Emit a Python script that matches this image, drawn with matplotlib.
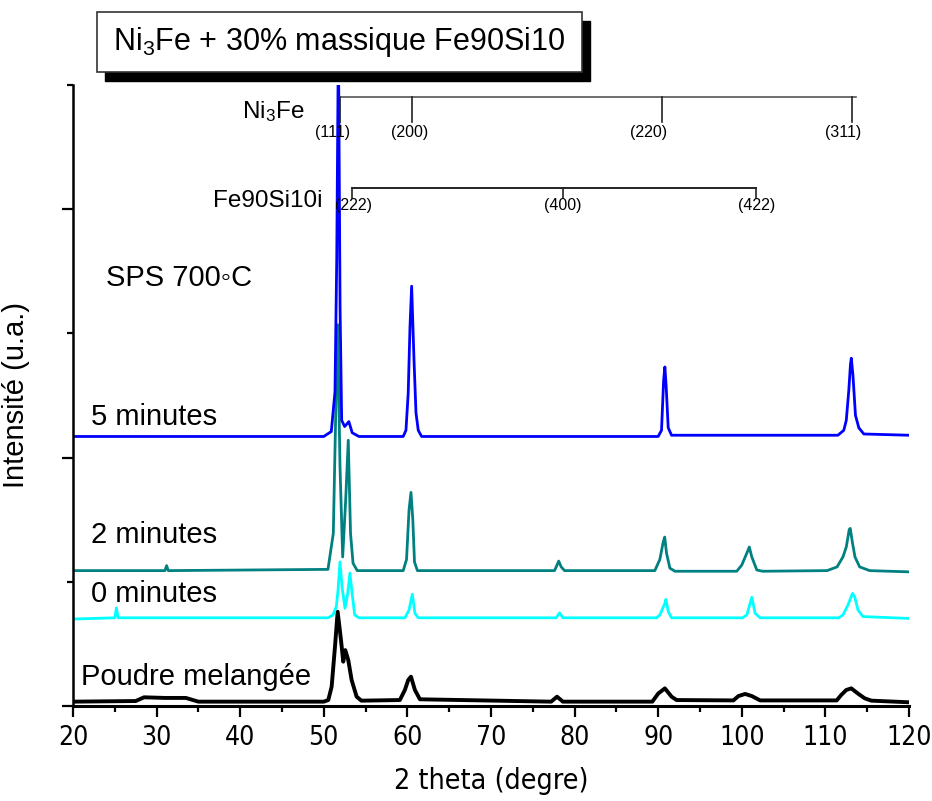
import numpy as np
import matplotlib
matplotlib.use('Agg')
import matplotlib.pyplot as plt
from matplotlib.patches import Rectangle
from matplotlib.ticker import MultipleLocator
from matplotlib import font_manager

plt.rcParams.update({'font.family': ['Liberation Sans', 'DejaVu Sans'],
                     'mathtext.fontset': 'custom',
                     'mathtext.rm': 'Liberation Sans',
                     'mathtext.it': 'Liberation Sans'})

# condensed face for the axis numbers, if one is installed
cond = font_manager.FontProperties(family='DejaVu Sans', stretch='condensed')
IS_COND = 'Condensed' in font_manager.findfont(cond)

# ── data (2theta, stacked intensity in arbitrary units) ──
x_5min = [20, 30, 40, 50, 50.9, 51.34, 51.55, 51.75, 51.95, 52.14, 52.5, 53.0, 53.4, 54.2,
          59.5, 59.83, 60.1, 60.31, 60.51, 60.79, 61.03, 61.3, 61.7,
          90.0, 90.4, 90.65, 90.8, 90.95, 91.2, 91.6,
          111.5, 112.2, 112.5, 112.8, 113.0, 113.1, 113.3, 113.6, 114.0, 114.6, 120]
y_5min = [2.17, 2.17, 2.17, 2.17, 2.21, 2.53, 3.6, 5.4, 3.2, 2.30, 2.25, 2.29, 2.20, 2.17,
          2.17, 2.22, 2.52, 3.05, 3.38, 2.79, 2.36, 2.22, 2.17,
          2.17, 2.22, 2.62, 2.73, 2.58, 2.24, 2.18,
          2.18, 2.22, 2.30, 2.54, 2.75, 2.80, 2.66, 2.34, 2.24, 2.19, 2.18]

x_2min = [20, 31.0, 31.2, 31.4, 50.5, 51.14, 51.46, 51.66, 51.94, 52.26, 52.62, 52.93, 53.2, 53.5, 54.0,
          59.5, 59.9, 60.2, 60.43, 60.65, 60.85, 61.2,
          77.6, 77.9, 78.1, 78.4, 78.8,
          89.6, 90.2, 90.6, 90.78, 91.0, 91.4, 92.0,
          99.4, 100.0, 100.6, 100.9, 101.2, 101.8, 102.5,
          110.2, 111.4, 112.1, 112.5, 112.85, 112.97, 113.25, 113.54, 114.1, 115.3, 120]
y_2min = [1.09, 1.09, 1.13, 1.09, 1.10, 1.39, 2.46, 3.07, 1.93, 1.20, 1.66, 2.14, 1.39, 1.15, 1.09,
          1.09, 1.18, 1.58, 1.72, 1.50, 1.16, 1.09,
          1.09, 1.135, 1.167, 1.12, 1.09,
          1.09, 1.18, 1.32, 1.36, 1.23, 1.11, 1.085,
          1.085, 1.135, 1.23, 1.28, 1.20, 1.095, 1.085,
          1.09, 1.12, 1.20, 1.28, 1.42, 1.43, 1.31, 1.20, 1.12, 1.09, 1.08]

x_0min = [20, 25.0, 25.2, 25.4, 50.5, 51.1, 51.5, 51.7, 51.94, 52.2, 52.54, 52.85, 53.13, 53.4, 53.7, 54.2,
          59.7, 60.2, 60.59, 60.9, 61.3, 77.8, 78.2, 78.6,
          89.8, 90.2, 90.8, 90.93, 91.2, 91.6,
          100.1, 100.6, 101.2, 101.6, 102.2,
          111.6, 112.1, 112.7, 113.25, 113.5, 113.9, 114.5, 120]
y_0min = [0.70, 0.71, 0.79, 0.71, 0.71, 0.733, 0.80, 0.93, 1.16, 0.95, 0.787, 0.90, 1.07, 0.90, 0.733, 0.71,
          0.71, 0.773, 0.90, 0.746, 0.71, 0.71, 0.75, 0.71,
          0.71, 0.733, 0.827, 0.859, 0.76, 0.71,
          0.71, 0.733, 0.875, 0.746, 0.71,
          0.71, 0.733, 0.813, 0.907, 0.88, 0.773, 0.72, 0.705]

x_poudre = [20, 27.5, 28.5, 31, 33.5, 35, 50.0, 50.54, 50.94, 51.34, 51.66, 52.06, 52.33, 52.57, 52.93,
            53.33, 53.93, 54.5, 59.1, 59.7, 60.1, 60.43, 60.9, 61.5, 77.2, 77.9, 78.6,
            89.3, 90.0, 90.8, 91.6, 92.2, 99.0, 99.6, 100.4, 101.2, 102.2,
            111.35, 111.9, 112.5, 113.1, 113.9, 114.7, 115.5, 120]
y_poudre = [0.035, 0.04, 0.07, 0.065, 0.065, 0.035, 0.035, 0.048, 0.155, 0.477, 0.759, 0.53, 0.357, 0.45, 0.37,
            0.21, 0.075, 0.043, 0.048, 0.129, 0.209, 0.236, 0.129, 0.054, 0.035, 0.075, 0.035,
            0.035, 0.10, 0.142, 0.075, 0.048, 0.045, 0.08, 0.097, 0.08, 0.045,
            0.045, 0.089, 0.129, 0.142, 0.10, 0.062, 0.043, 0.03]

# reference reflections
ni3fe_pos = [51.94, 60.51, 90.49, 113.22]
ni3fe_hkl = ['(111)', '(200)', '(220)', '(311)']
ni3fe_lab_x = [51.1, 60.3, 88.8, 112.1]
fesi_pos = [53.34, 78.58, 101.7]
fesi_hkl = ['(222)', '(400)', '(422)']
fesi_lab_x = [53.6, 78.6, 101.8]

fig = plt.figure(figsize=(9.32, 8.01), dpi=100)
ax = fig.add_axes([0.0783, 0.1186, 0.8970, 0.7753])

ax.plot(x_poudre, y_poudre, color='black', lw=2.8)
ax.plot(x_0min, y_0min, color='#00FFFF', lw=2.0)
ax.plot(x_2min, y_2min, color='#008080', lw=2.0)
ax.plot(x_5min, y_5min, color='#0000FF', lw=2.0)

ax.set_xlim(20, 120)
ax.set_ylim(0, 5)
ax.spines['top'].set_visible(False)
ax.spines['right'].set_visible(False)
ax.spines['left'].set_linewidth(1.8)
ax.spines['bottom'].set_linewidth(2.2)
ax.xaxis.set_major_locator(MultipleLocator(10))
ax.xaxis.set_minor_locator(MultipleLocator(5))
ax.yaxis.set_major_locator(MultipleLocator(2))
ax.yaxis.set_minor_locator(MultipleLocator(1))
ax.tick_params(which='major', direction='out', length=8, width=1.6)
ax.tick_params(which='minor', direction='out', length=4, width=1.6)
ax.tick_params(axis='x', pad=6)
ax.tick_params(axis='y', labelleft=False)

tick_size = 19 if IS_COND else 16
for lab in ax.get_xticklabels():
    if IS_COND:
        lab.set_fontproperties(cond)
    lab.set_fontsize(tick_size)
if IS_COND:
    ax.set_xlabel('2 theta (degre)', fontproperties=cond, fontsize=20.5, labelpad=11)
else:
    ax.set_xlabel('2 theta (degre)', fontsize=18, labelpad=11)
ax.set_ylabel('Intensité (u.a.)', fontsize=21)
ax.yaxis.set_label_coords(-0.051, 0.5)

# reflection markers
ax.plot([ni3fe_pos[0], 113.66], [4.906, 4.906], color='#555555', lw=1.2)
for p in ni3fe_pos:
    ax.plot([p, p], [4.906, 4.705], color='#222222', lw=1.2)
for lx, h in zip(ni3fe_lab_x, ni3fe_hkl):
    ax.text(lx, 4.62, h, ha='center', va='center', fontsize=11.5)
ax.plot([fesi_pos[0], fesi_pos[-1]], [4.171, 4.171], color='black', lw=1.2)
for p in fesi_pos:
    ax.plot([p, p], [4.171, 4.09], color='#222222', lw=1.2)
for lx, h in zip(fesi_lab_x, fesi_hkl):
    ax.text(lx, 4.03, h, ha='center', va='center', fontsize=11.5)

ax.text(40.2, 4.734, 'Ni$_3$Fe', fontsize=17.5, va='baseline')
ax.text(36.75, 4.018, 'Fe90Si10i', fontsize=17.5, va='baseline')
ax.text(24.0, 3.382, 'SPS 700\u25e6C', fontsize=21, va='baseline')
ax.text(22.2, 2.262, '5 minutes', fontsize=21, va='baseline')
ax.text(22.2, 1.31, '2 minutes', fontsize=21, va='baseline')
ax.text(22.2, 0.84, '0 minutes', fontsize=21, va='baseline')
ax.text(21.0, 0.169, 'Poudre melangée', fontsize=21, va='baseline')

# title box with drop shadow
W, H = 932, 801
fig.patches.append(Rectangle((105 / W, 1 - 81 / H), 485 / W, 60 / H, transform=fig.transFigure,
                             facecolor='black', edgecolor='black', zorder=1))
fig.patches.append(Rectangle((97 / W, 1 - 72 / H), 485 / W, 60 / H, transform=fig.transFigure,
                             facecolor='white', edgecolor='#333333', lw=1.2, zorder=2))
fig.text(339.5 / W, 1 - 42 / H, 'Ni$_3$Fe + 30% massique Fe90Si10', fontsize=22,
         ha='center', va='center', zorder=3)

plt.savefig('out.png', dpi=100)
